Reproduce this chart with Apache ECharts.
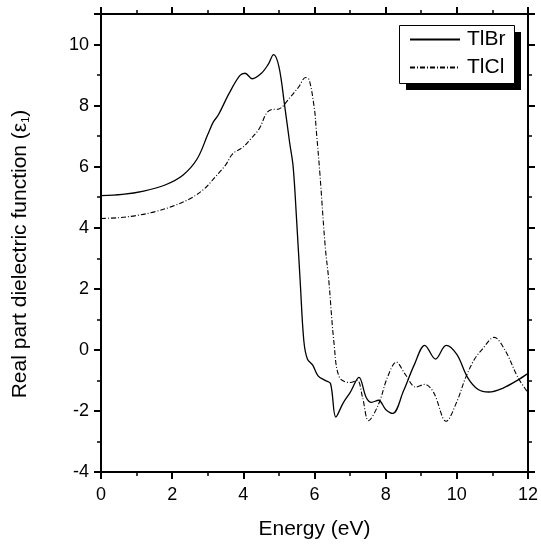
<!DOCTYPE html>
<html>
<head>
<meta charset="utf-8">
<script src="https://cdn.jsdelivr.net/npm/echarts@6/dist/echarts.min.js"></script>
<style>
  html, body { margin: 0; padding: 0; background: #fff; }
  #chart { width: 541px; height: 545px; }
</style>
</head>
<body>
<div id="chart"></div>
<script>
// energy (eV) and real part of dielectric function
let tlbrX = [0, 0.6, 1.2, 1.8, 2.3, 2.7, 3.0, 3.15, 3.3, 3.6, 3.9, 4.05, 4.25, 4.5, 4.7, 4.85, 5.0, 5.15, 5.3, 5.4, 5.5, 5.6, 5.7, 5.8, 5.95, 6.1, 6.3, 6.45, 6.6, 6.8, 7.0, 7.25, 7.45, 7.6, 7.8, 8.0, 8.2, 8.5, 8.8, 9.1, 9.4, 9.7, 10.0, 10.3, 10.6, 10.9, 11.3, 11.7, 12]
let tlbrY = [5.05, 5.09, 5.2, 5.4, 5.72, 6.25, 7.05, 7.45, 7.7, 8.4, 8.98, 9.06, 8.88, 9.05, 9.35, 9.67, 9.28, 8.1, 6.8, 6.0, 4.2, 2.2, 0.3, -0.3, -0.5, -0.85, -1.0, -1.1, -2.2, -1.75, -1.4, -0.9, -1.55, -1.72, -1.65, -1.95, -2.08, -1.35, -0.5, 0.15, -0.3, 0.15, -0.15, -0.9, -1.3, -1.38, -1.25, -1.0, -0.77]

let tlclX = [0, 0.5, 1, 1.5, 2, 2.5, 2.9, 3.2, 3.5, 3.7, 4.0, 4.2, 4.45, 4.65, 4.8, 5.0, 5.3, 5.55, 5.75, 5.85, 6.0, 6.05, 6.15, 6.3, 6.4, 6.55, 6.7, 7.0, 7.2, 7.35, 7.52, 7.8, 8.05, 8.3, 8.55, 8.85, 9.1, 9.35, 9.7, 10.0, 10.25, 10.5, 10.7, 11.05, 11.35, 11.72, 12]
let tlclY = [4.3, 4.33, 4.4, 4.52, 4.7, 4.95, 5.27, 5.65, 6.05, 6.42, 6.65, 6.9, 7.25, 7.75, 7.87, 7.89, 8.25, 8.6, 8.92, 8.85, 7.87, 7.2, 5.8, 3.4, 2.3, 0.2, -0.9, -1.07, -1.0, -1.55, -2.32, -1.78, -0.9, -0.4, -0.8, -1.22, -1.13, -1.4, -2.34, -1.7, -0.9, -0.3, 0.0, 0.41, 0.0, -0.91, -1.4]

let seriesNames = ['TlBr', 'TlCl']

function pairs(xs, ys) {
	let arr = []
	for (let i = 0; i < xs.length; i++) {
		arr.push([xs[i], ys[i]])
	}
	return arr
}

let myChart = echarts.init(document.getElementById('chart'))

let fontName = 'Liberation Sans'
let axisLine = { show: true, onZero: false, lineStyle: { color: '#000', width: 2 } }
let axisTick = { show: true, inside: false, length: 7, lineStyle: { color: '#000', width: 2 } }
let minorTick = { show: true, splitNumber: 2, length: 4, lineStyle: { color: '#000', width: 1.5 } }

let option = {
	animation: false,
	backgroundColor: '#fff',
	textStyle: { fontFamily: fontName, color: '#000' },
	grid: {
		left: 101,
		right: 11,
		top: 14,
		bottom: 70
	},
	// legend frame with a hard black drop shadow
	graphic: [
		{ type: 'rect', z: 1, shape: { x: 406, y: 32, width: 115, height: 58 }, style: { fill: '#000' } },
		{ type: 'rect', z: 1, shape: { x: 399.5, y: 25.5, width: 115, height: 58 }, style: { fill: '#fff', stroke: '#000', lineWidth: 1 } }
	],
	legend: {
		data: seriesNames,
		orient: 'vertical',
		left: 399,
		top: 25,
		z: 5,
		padding: [4, 8, 4, 10],
		itemWidth: 50,
		itemHeight: 22,
		itemGap: 7,
		itemStyle: { opacity: 0 },
		textStyle: { fontFamily: fontName, fontSize: 21, color: '#000', padding: [0, 0, 0, 2] }
	},
	xAxis: [
		{
			type: 'value',
			min: 0,
			max: 12,
			interval: 2,
			name: 'Energy (eV)',
			nameLocation: 'middle',
			nameGap: 47,
			nameTextStyle: { fontSize: 21, color: '#000', fontFamily: fontName },
			axisLine: axisLine,
			axisTick: axisTick,
			minorTick: minorTick,
			splitLine: { show: false },
			axisLabel: { color: '#000', fontSize: 18, margin: 14, fontFamily: fontName }
		},
		{
			type: 'value',
			position: 'top',
			min: 0,
			max: 12,
			interval: 2,
			axisLine: axisLine,
			axisTick: axisTick,
			minorTick: minorTick,
			splitLine: { show: false },
			axisLabel: { show: false }
		}
	],
	yAxis: [
		{
			type: 'value',
			min: -4,
			max: 11,
			interval: 2,
			name: 'Real part dielectric function (ε{sub|1})',
			nameLocation: 'middle',
			nameGap: 70,
			nameTextStyle: {
				fontSize: 21,
				color: '#000',
				fontFamily: fontName,
				padding: [0, 22, 0, 0],
				rich: {
					sub: { fontSize: 11, verticalAlign: 'bottom', padding: [8, 0, 0, 0], fontFamily: fontName, color: '#000' }
				}
			},
			axisLine: axisLine,
			axisTick: axisTick,
			minorTick: minorTick,
			splitLine: { show: false },
			axisLabel: { color: '#000', fontSize: 18, margin: 12, showMaxLabel: false, fontFamily: fontName }
		},
		{
			type: 'value',
			position: 'right',
			min: -4,
			max: 11,
			interval: 2,
			axisLine: axisLine,
			axisTick: axisTick,
			minorTick: minorTick,
			splitLine: { show: false },
			axisLabel: { show: false }
		}
	],
	series: [
		{
			name: seriesNames[0],
			type: 'line',
			xAxisIndex: 0,
			yAxisIndex: 0,
			smooth: 0.35,
			symbol: 'none',
			lineStyle: { color: '#000', width: 1.3, type: 'solid' },
			itemStyle: { color: '#000' },
			data: pairs(tlbrX, tlbrY)
		},
		{
			name: seriesNames[1],
			type: 'line',
			xAxisIndex: 0,
			yAxisIndex: 0,
			smooth: 0.35,
			symbol: 'none',
			lineStyle: { color: '#000', width: 1.1, type: [5, 2, 1, 2] },
			itemStyle: { color: '#000' },
			data: pairs(tlclX, tlclY)
		}
	]
}

myChart.setOption(option)
</script>
</body>
</html>
